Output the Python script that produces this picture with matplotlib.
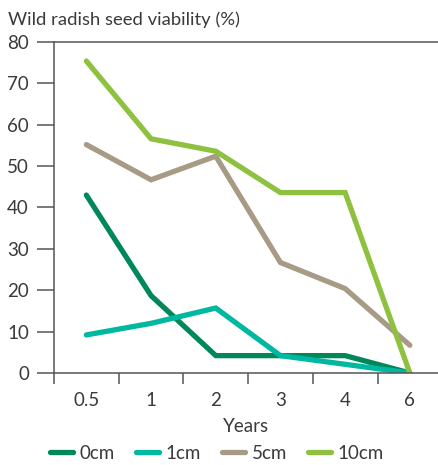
import matplotlib
matplotlib.use('Agg')
import matplotlib.pyplot as plt
from matplotlib.lines import Line2D

years = ['0.5', '1', '2', '3', '4', '6']
depth_0cm = [43.0, 18.7, 4.2, 4.2, 4.2, 0.0]
depth_1cm = [9.2, 12.0, 15.7, 4.2, 2.1, 0.0]
depth_5cm = [55.2, 46.7, 52.4, 26.7, 20.4, 6.7]
depth_10cm = [75.4, 56.6, 53.6, 43.6, 43.6, 0.0]
labels = ['0cm', '1cm', '5cm', '10cm']
colors = ['#00875A', '#00B8A0', '#A89B86', '#8DC13F']

plt.rcParams['font.family'] = ['Lato', 'DejaVu Sans']
text_color = '#3a3a3a'
axis_color = '#555555'

fig = plt.figure(figsize=(4.38, 4.65), dpi=100)
ax = fig.add_axes([54 / 438, 92 / 465, 384 / 438, 331 / 465])

x = list(range(len(years)))
for series, label, color in zip([depth_0cm, depth_1cm, depth_5cm, depth_10cm], labels, colors):
    ax.plot(x, series, color=color, lw=3.8, solid_capstyle='round', solid_joinstyle='miter', label=label)

ax.set_ylim(0, 80)
ax.set_xlim(-0.5, -0.5 + 384 / 64.7)
ax.set_yticks(range(0, 81, 10))
ax.set_xticks([i - 0.5 for i in range(len(years))])
ax.set_xticklabels([])
ax.set_xticks(x, minor=True)
ax.set_xticklabels(years, minor=True)

ax.tick_params(axis='y', direction='out', length=12, width=1.1, color=axis_color,
               labelsize=13.5, labelcolor=text_color, pad=6)
ax.tick_params(axis='x', which='major', direction='out', length=8, width=1.1, color=axis_color)
ax.tick_params(axis='x', which='minor', length=0, labelsize=13.5, labelcolor=text_color, pad=14)

for side in ['top', 'bottom', 'left']:
    ax.spines[side].set_color(axis_color)
    ax.spines[side].set_linewidth(1.1)
ax.spines['right'].set_visible(False)

ax.set_xlabel('Years', fontsize=13.5, color=text_color, labelpad=6)
fig.text(8 / 438, 1 - 20 / 465, 'Wild radish seed viability (%)', fontsize=13.3,
         color=text_color, ha='left', va='center')

handles = [Line2D([], [], color=c, lw=3.8, solid_capstyle='round') for c in colors]
fig.legend(handles, labels, loc='center', bbox_to_anchor=(217 / 438, 1 - 453 / 465), ncol=4,
           frameon=False, fontsize=13.5, labelcolor=text_color, handlelength=1.25,
           handletextpad=0.35, columnspacing=1.1)

fig.savefig('out.png', dpi=100)
